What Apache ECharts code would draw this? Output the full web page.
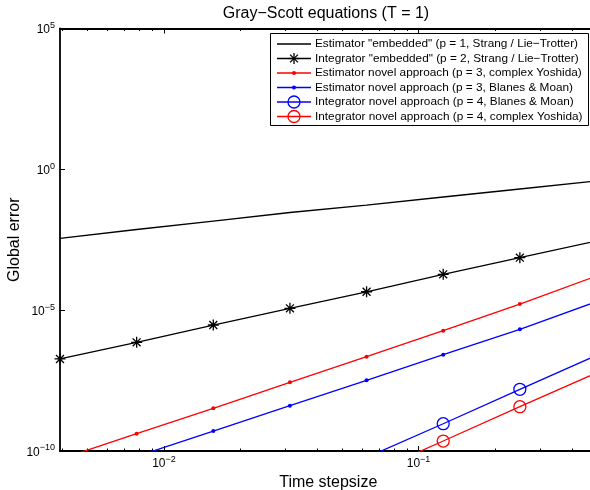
<!DOCTYPE html>
<html>
<head>
<meta charset="utf-8">
<script src="https://cdn.jsdelivr.net/npm/echarts@6/dist/echarts.min.js"></script>
<style>
  html, body { margin: 0; padding: 0; background: #fff; }
  #chart { width: 590px; height: 490px; }
</style>
</head>
<body>
<div id="chart"></div>
<script>
// ---- data ----
const stepsizes = [0.00390625, 0.0078125, 0.015625, 0.03125, 0.0625, 0.125, 0.25, 0.5];

const seriesNames = [
  'Estimator "embedded" (p = 1, Strang / Lie\u2212Trotter)',
  'Integrator "embedded" (p = 2, Strang / Lie\u2212Trotter)',
  'Estimator novel approach (p = 3, complex Yoshida)',
  'Estimator novel approach (p = 3, Blanes & Moan)',
  'Integrator novel approach (p = 4, Blanes & Moan)',
  'Integrator novel approach (p = 4, complex Yoshida)'
];

const errEstEmbedded   = [3.56e-3, 7.3e-3, 1.46e-2, 2.93e-2, 5.4e-2, 1.04e-1, 2.0e-1, 3.85e-1];
const errIntEmbedded   = [1.85e-7, 7.2e-7, 2.97e-6, 1.16e-5, 4.5e-5, 1.87e-4, 7.3e-4, 2.87e-3];
const errEstYoshida    = [5.1e-11, 4.1e-10, 3.28e-9, 2.75e-8, 2.23e-7, 1.87e-6, 1.65e-5, 1.64e-4];
const errEstBlanes     = [null, 6.4e-11, 5.1e-10, 4.06e-9, 3.24e-8, 2.62e-7, 2.09e-6, 2.01e-5];
const errIntBlanes     = [null, null, null, null, 5.9e-11, 9.3e-10, 1.55e-8, 2.48e-7];
const errIntYoshida    = [null, null, null, null, 1.4e-11, 2.26e-10, 3.74e-9, 5.97e-8];

const xMajorTicks = [0.01, 0.1];
const xMinorTicks = [0.004, 0.005, 0.006, 0.007, 0.008, 0.009,
                     0.02, 0.03, 0.04, 0.05, 0.06, 0.07, 0.08, 0.09,
                     0.2, 0.3, 0.4];
const yMajorTicks = [1e-10, 1e-5, 1, 1e5];

const titleText = 'Gray\u2212Scott equations (T = 1)';
const xAxisTitle = 'Time stepsize';
const yAxisTitle = 'Global error';

// ---- chart ----
const FONT = '"Liberation Sans", Arial, Helvetica, sans-serif';
const RED = '#ff0000', BLUE = '#0000ff', BLACK = '#000000';
const STAR = 'path://M0,-5L0,5M-5,0L5,0M-3.6,-3.6L3.6,3.6M-3.6,3.6L3.6,-3.6';

function pairs(ys) { return stepsizes.map((x, i) => [x, ys[i] == null ? null : ys[i]]); }

function supLabel(v) {
  const e = Math.round(Math.log10(v));
  const s = e < 0 ? '\u2212' + (-e) : String(e);
  return '{b|10}{s|' + s + '}';
}
const richLabel = {
  b: { fontSize: 12, fontFamily: FONT, color: '#000', padding: [3, 0, 0, 0] },
  s: { fontSize: 9, fontFamily: FONT, color: '#000', verticalAlign: 'top' }
};

const XMIN = 0.00390625, XMAX = 0.5;

function xAxisDef(position, ticks, len, withLabel) {
  return {
    type: 'log', logBase: 10, position: position, min: XMIN, max: XMAX,
    gridIndex: 0,
    axisLine: { show: true, onZero: false, lineStyle: { color: '#000', width: 1.8 } },
    axisTick: { show: true, inside: true, length: len, customValues: ticks,
                lineStyle: { color: '#000', width: 1 } },
    axisLabel: withLabel ? { show: true, customValues: xMajorTicks, margin: 4,
                formatter: supLabel, rich: richLabel } : { show: false },
    splitLine: { show: false },
    minorTick: { show: false },
    name: withLabel ? xAxisTitle : '',
    nameLocation: 'middle', nameGap: 23,
    nameTextStyle: { fontSize: 16, fontFamily: FONT, color: '#000' }
  };
}

function lineSeries(name, ys, color, symbol, size, hollow) {
  return {
    name: name, type: 'line', xAxisIndex: 0, yAxisIndex: 0,
    data: pairs(ys),
    symbol: symbol, symbolSize: size, showSymbol: symbol !== 'none',
    connectNulls: false, clip: true,
    lineStyle: { color: color, width: 1.3 },
    itemStyle: hollow
      ? { color: 'rgba(0,0,0,0)', borderColor: color, borderWidth: 1.3 }
      : { color: color, borderColor: color, borderWidth: symbol === STAR ? 1.3 : 0 },
    emphasis: { disabled: true },
    z: 3
  };
}

// legend drawn with graphic elements
const legendGraphics = [];
const LX = 270.5, LY = 33.5, LW = 318, LH = 92;
legendGraphics.push({ type: 'rect', z: 100, shape: { x: LX, y: LY, width: LW, height: LH },
  style: { fill: '#fff', stroke: '#000', lineWidth: 1 } });
const legendColors = [BLACK, BLACK, RED, BLUE, BLUE, RED];
const legendMarks = ['none', 'star', 'dot', 'dot', 'ring', 'ring'];
for (let i = 0; i < seriesNames.length; i++) {
  const y = 44 + 14.5 * i;
  const c = legendColors[i];
  legendGraphics.push({ type: 'line', z: 101, shape: { x1: 277, y1: y, x2: 311, y2: y },
    style: { stroke: c, lineWidth: 1.3 } });
  const mx = 294;
  if (legendMarks[i] === 'star') {
    const segs = [[0, -5.5, 0, 5.5], [-5.5, 0, 5.5, 0], [-3.9, -3.9, 3.9, 3.9], [-3.9, 3.9, 3.9, -3.9]];
    segs.forEach(s => legendGraphics.push({ type: 'line', z: 102,
      shape: { x1: mx + s[0], y1: y + s[1], x2: mx + s[2], y2: y + s[3] },
      style: { stroke: c, lineWidth: 1.3 } }));
  } else if (legendMarks[i] === 'dot') {
    legendGraphics.push({ type: 'circle', z: 102, shape: { cx: mx, cy: y, r: 2 }, style: { fill: c } });
  } else if (legendMarks[i] === 'ring') {
    legendGraphics.push({ type: 'circle', z: 102, shape: { cx: mx, cy: y, r: 6 },
      style: { fill: 'none', stroke: c, lineWidth: 1.3 } });
  }
  legendGraphics.push({ type: 'text', z: 102, x: 315, y: y,
    style: { text: seriesNames[i], fill: '#000', fontSize: 11.8, fontFamily: FONT,
             align: 'left', verticalAlign: 'middle' } });
}

const option = {
  animation: false,
  backgroundColor: '#fff',
  textStyle: { fontFamily: FONT },
  title: {
    text: titleText, left: 326, top: 6, padding: 0, textAlign: 'center',
    textStyle: { fontSize: 16, fontWeight: 'normal', color: '#000', fontFamily: FONT }
  },
  grid: { left: 60, top: 28.5, right: -6.5, bottom: 39, containLabel: false, outerBoundsMode: 'none' },
  xAxis: [
    xAxisDef('bottom', xMajorTicks, 5, true),
    xAxisDef('bottom', xMinorTicks, 2.5, false),
    xAxisDef('top', xMajorTicks, 5, false),
    xAxisDef('top', xMinorTicks, 2.5, false)
  ],
  yAxis: [{
    type: 'log', logBase: 10, position: 'left', min: 1e-10, max: 1e5,
    axisLine: { show: true, onZero: false, lineStyle: { color: '#000', width: 1.8 } },
    axisTick: { show: true, inside: true, length: 5, customValues: yMajorTicks,
                lineStyle: { color: '#000', width: 1 } },
    axisLabel: { show: true, customValues: yMajorTicks, margin: 5,
                 formatter: supLabel, rich: richLabel },
    splitLine: { show: false },
    minorTick: { show: false },
    name: yAxisTitle, nameLocation: 'middle', nameGap: 37, nameMoveOverlap: false,
    nameTextStyle: { fontSize: 16, fontFamily: FONT, color: '#000' }
  }],
  series: [
    lineSeries(seriesNames[0], errEstEmbedded, BLACK, 'none', 0, false),
    lineSeries(seriesNames[1], errIntEmbedded, BLACK, STAR, 11, false),
    lineSeries(seriesNames[2], errEstYoshida, RED, 'circle', 4, false),
    lineSeries(seriesNames[3], errEstBlanes, BLUE, 'circle', 4, false),
    lineSeries(seriesNames[4], errIntBlanes, BLUE, 'circle', 12, true),
    lineSeries(seriesNames[5], errIntYoshida, RED, 'circle', 12, true)
  ],
  graphic: legendGraphics
};

const chart = echarts.init(document.getElementById('chart'), null, { renderer: 'canvas' });
chart.setOption(option);
</script>
</body>
</html>
